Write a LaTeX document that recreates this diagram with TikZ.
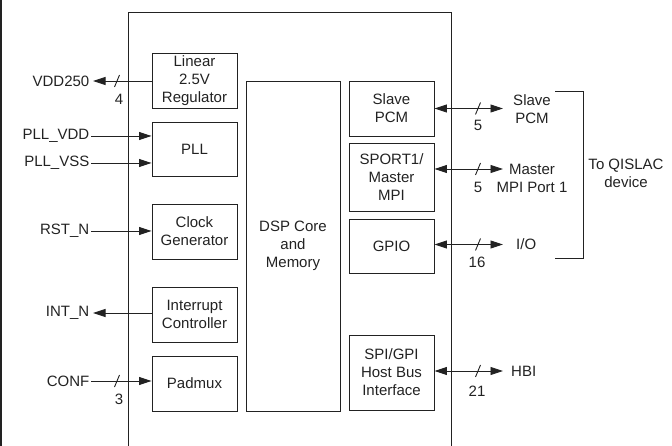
\documentclass[tikz,border=0pt]{standalone}
\usepackage{fontspec}
\setmainfont{Liberation Sans}
\usetikzlibrary{arrows.meta,calc}
\definecolor{ink}{HTML}{222222}
\newcommand\dfont{\fontsize{15}{18}\selectfont}
\begin{document}
\begin{tikzpicture}[x=1pt,y=-1pt,
  blk/.style={draw=ink, line width=0.9pt, minimum width=85pt, align=center, inner sep=0pt, font=\dfont, text=ink},
  lbl/.style={inner sep=1.5pt, font=\dfont, text=ink, align=center},
  conn/.style={draw=ink, line width=0.9pt},
  arr/.style={conn,-{Triangle[length=12.5pt,width=8pt]}},
  darr/.style={conn,{Triangle[length=12.5pt,width=8pt]}-{Triangle[length=12.5pt,width=8pt]}},
]
\useasboundingbox (0,0) rectangle (672,446);
% page edge line and outer frame
\draw[ink, line width=1.5pt] (0.75,0) -- (0.75,446);
\draw[conn] (128,446) -- (128,12) -- (451,12) -- (451,446);

% left column blocks
\node[blk, minimum height=55pt] (reg) at (194.5,80.5) {Linear\\2.5V\\Regulator};
\node[blk, minimum height=54pt] (pll) at (194.5,149) {PLL};
\node[blk, minimum height=55pt] (clk) at (194.5,231.5) {Clock\\Generator};
\node[blk, minimum height=55pt] (irq) at (194.5,314.5) {Interrupt\\Controller};
\node[blk, minimum height=55pt] (pmx) at (194.5,383.5) {Padmux};
% DSP
\node[blk, minimum width=94pt, minimum height=330pt] (dsp) at (293,246) {DSP Core\\and\\Memory};
% right column blocks
\node[blk, minimum height=55pt] (spcm) at (391.5,108.5) {Slave\\PCM};
\node[blk, minimum height=68pt] (sport) at (391.5,177) {SPORT1/\\Master\\MPI};
\node[blk, minimum height=54pt] (gpio) at (391.5,246) {GPIO};
\node[blk, minimum height=75pt] (spi) at (391.5,372.5) {SPI/GPI\\Host Bus\\Interface};

% left labels
\node[lbl, anchor=east] (vdd) at (91,81) {VDD250};
\node[lbl, anchor=east] (pvdd) at (91,136) {PLL\_VDD};
\node[lbl, anchor=east] (pvss) at (91,163) {PLL\_VSS};
\node[lbl, anchor=east] (rst) at (91,231) {RST\_N};
\node[lbl, anchor=east] (intn) at (91,313) {INT\_N};
\node[lbl, anchor=east] (conf) at (91,381) {CONF};

\coordinate (vEnd) at (93,81);
\coordinate (iEnd) at (93,313);
\draw[arr] (reg.west |- vEnd) -- (vEnd);
\draw[arr] (pvdd.east) -- (pvdd.east -| pll.west);
\draw[arr] (pvss.east) -- (pvss.east -| pll.west);
\draw[arr] (rst.east) -- (rst.east -| clk.west);
\draw[arr] (irq.west |- iEnd) -- (iEnd);
\draw[arr] (conf.east) -- (conf.east -| pmx.west);

% bus width marks (left)
\draw[conn] (114.5,87) -- (119.5,75);
\node[lbl] (n4) at (119,99) {4};
\draw[conn] (114.5,387) -- (119.5,375);
\node[lbl] (n3) at (119,399) {3};

% right side labels
\node[lbl] (slbl) at (532,109.5) {Slave\\PCM};
\node[lbl] (mlbl) at (532,178) {Master\\MPI Port 1};
\node[lbl, anchor=west] (iolbl) at (514.5,244.5) {I/O};
\node[lbl, anchor=west] (hbil) at (509.5,371) {HBI};

\coordinate (sEnd) at (503,108.5);
\coordinate (mEnd) at (503,169);
\coordinate (ioEnd) at (503,244.5);
\coordinate (hEnd) at (503,371);

\draw[darr] (spcm.east) -- (sEnd);
\draw[darr] (sport.east |- mEnd) -- (mEnd);
\draw[darr] (gpio.east |- ioEnd) -- (ioEnd);
\draw[darr] (spi.east |- hEnd) -- (hEnd);

% bus width marks (right)
\draw[conn] (475.5,114.5) -- (480.5,102.5);
\node[lbl] (n5a) at (478,125) {5};
\draw[conn] (475.5,175) -- (480.5,163);
\node[lbl] (n5b) at (478,187) {5};
\draw[conn] (475.5,250.5) -- (480.5,238.5);
\node[lbl] (n16) at (477,262) {16};
\draw[conn] (475.5,377) -- (480.5,365);
\node[lbl] (n21) at (477,391) {21};

% bracket to QISLAC
\draw[conn] (555,91) -- (583,91) -- (583,258) -- (555,258);
\node[lbl] (qis) at (626,173) {To QISLAC\\device};
\end{tikzpicture}
\end{document}
